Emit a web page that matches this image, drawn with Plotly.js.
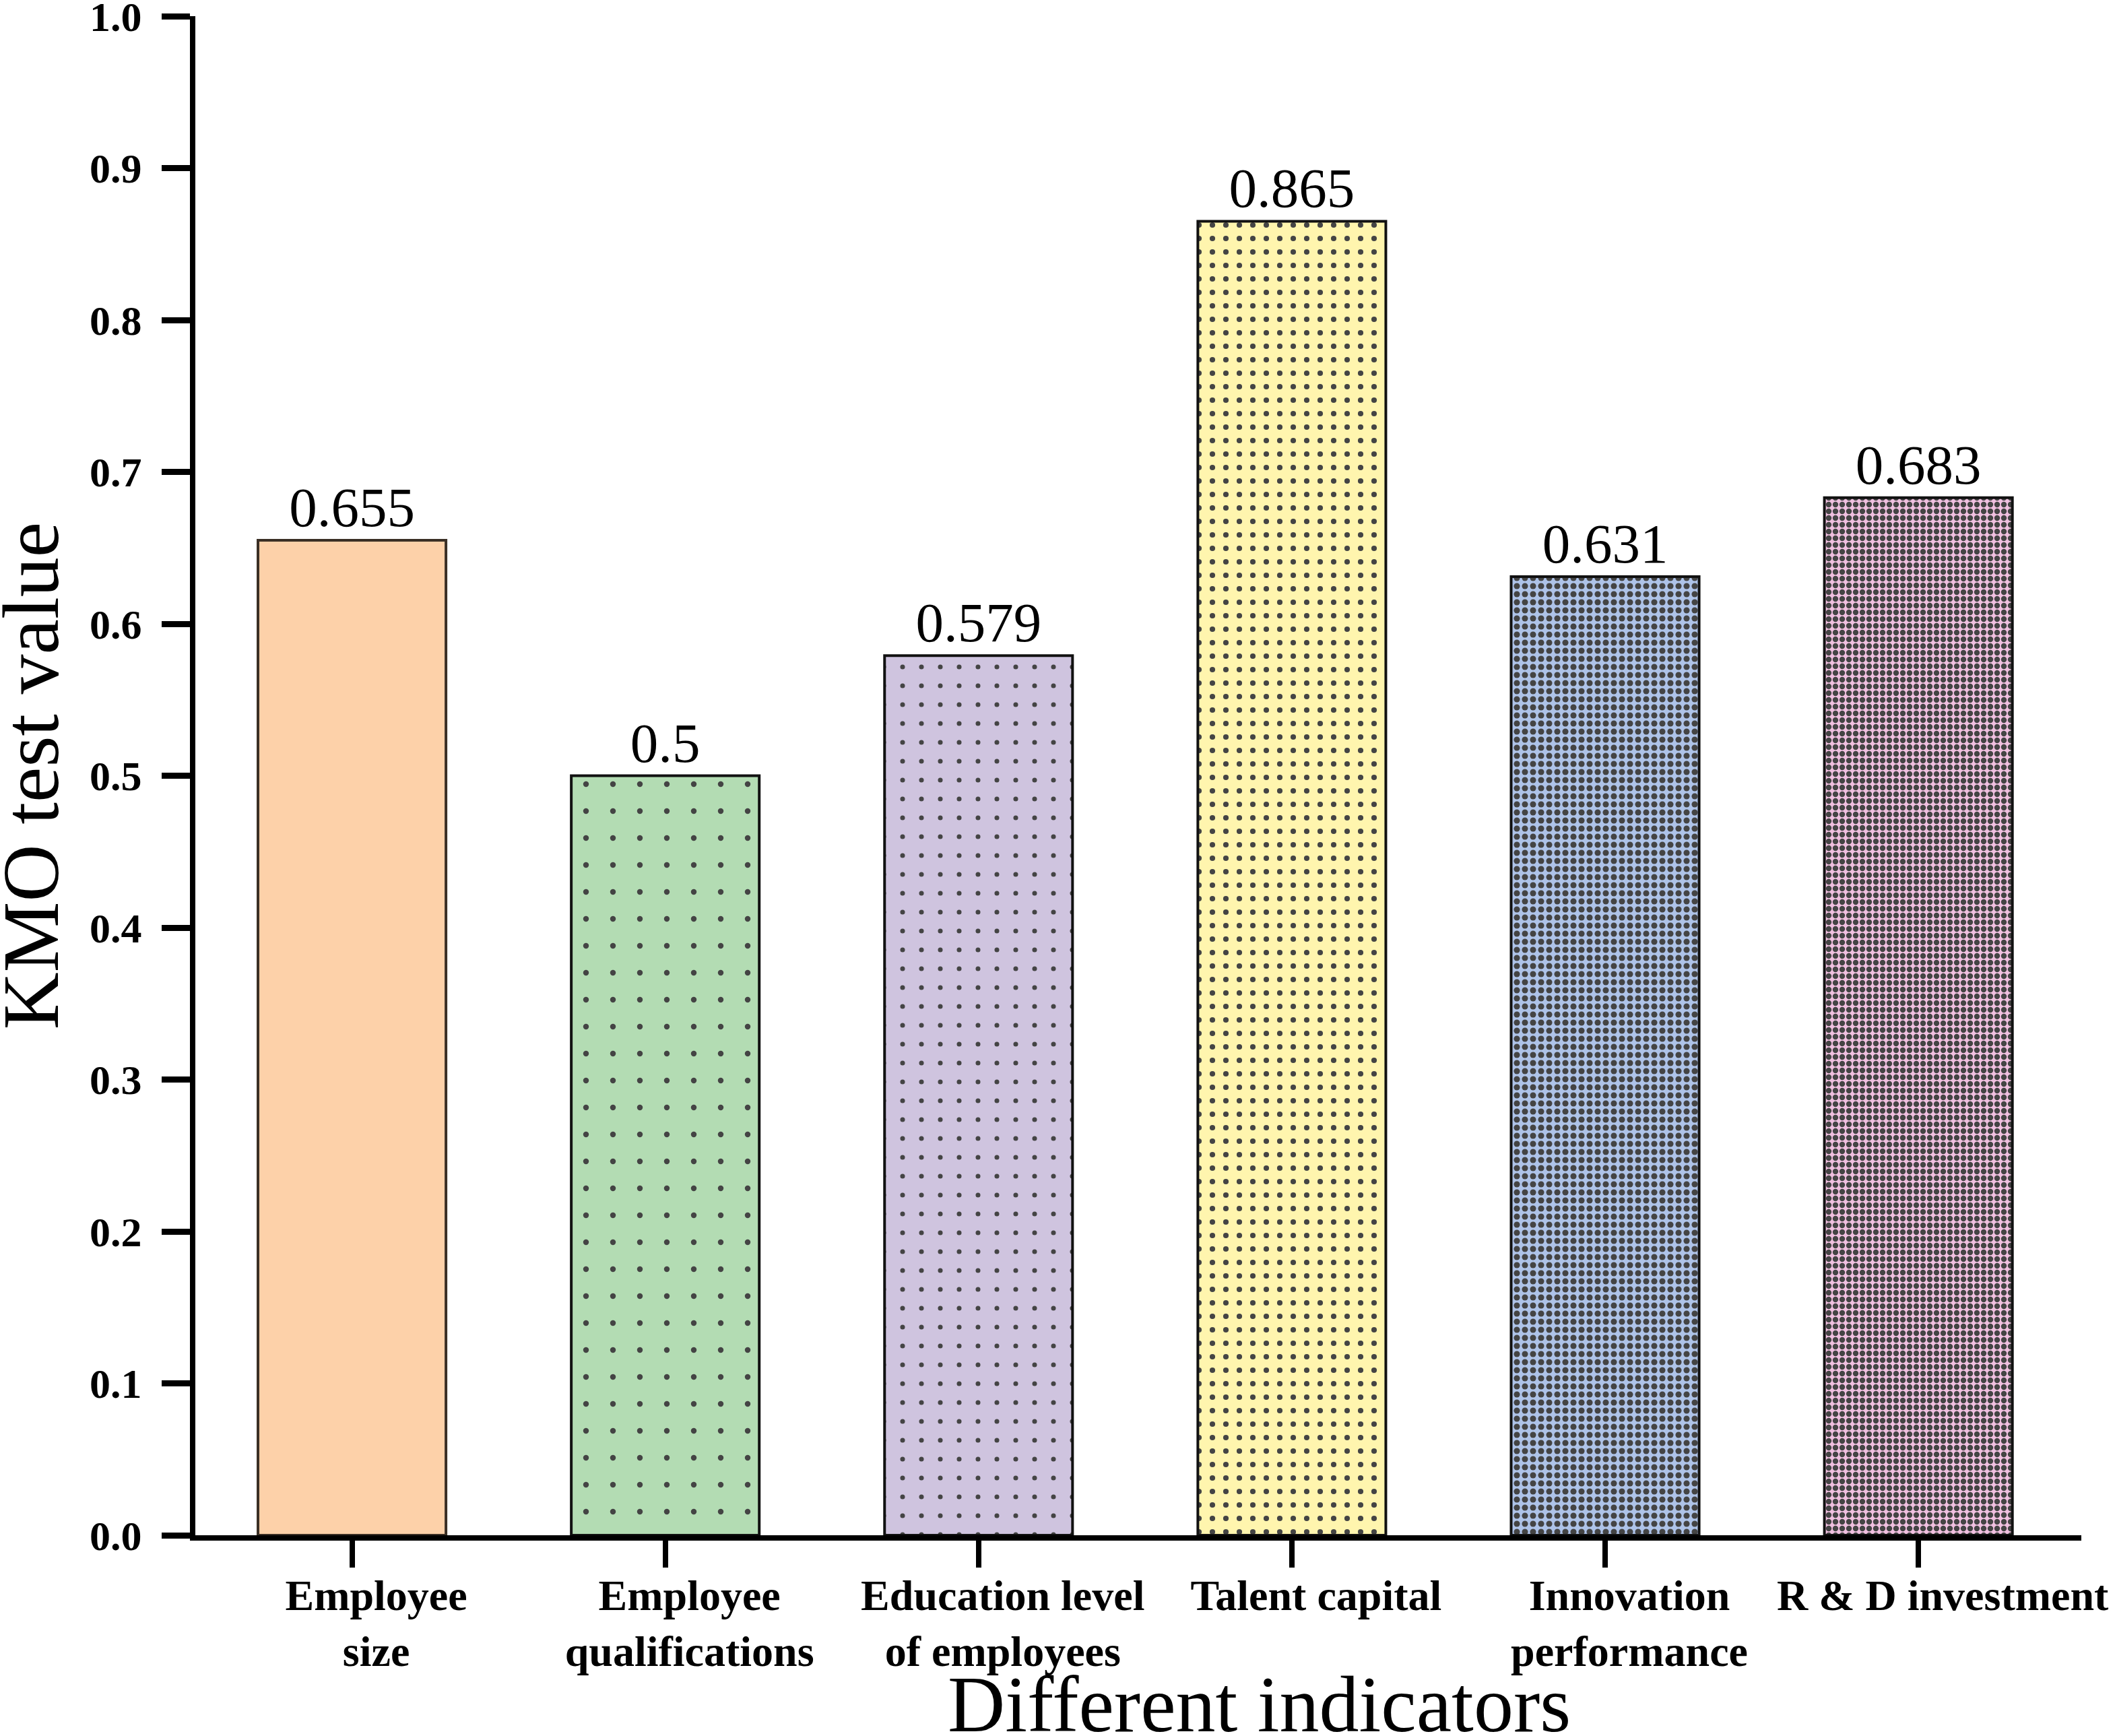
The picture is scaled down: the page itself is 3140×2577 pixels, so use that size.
<!DOCTYPE html>
<html>
<head>
<meta charset="utf-8">
<script src="https://cdn.plot.ly/plotly-3.0.1.min.js"></script>
<style>
  html, body { margin: 0; padding: 0; background: #ffffff; }
  #chart { width: 3140px; height: 2577px; }
</style>
</head>
<body>
<div id="chart"></div>
<script>
// ---- data ----
var categories = [
  "Employee<br>size",
  "Employee<br>qualifications",
  "Education level<br>of employees",
  "Talent capital",
  "Innovation<br>performance",
  "R & D investment"
];
var kmoValues = [0.655, 0.5, 0.579, 0.865, 0.631, 0.683];
var valueLabels = ["0.655", "0.5", "0.579", "0.865", "0.631", "0.683"];
var yTickVals = [0.0, 0.1, 0.2, 0.3, 0.4, 0.5, 0.6, 0.7, 0.8, 0.9, 1.0];
var yTickText = ["0.0", "0.1", "0.2", "0.3", "0.4", "0.5", "0.6", "0.7", "0.8", "0.9", "1.0"];
var xTitle = "Different indicators";
var yTitle = "KMO test value";

// ---- styles ----
var fillColors = ["#FDD1A9", "#B3DCB3", "#CFC4DF", "#FFF5AE", "#AEC3E8", "#F0C0E0"];
var dotColors  = ["#000000", "#142414", "#1e1828", "#2e2e1e", "#18212f", "#261624"];
var lineColors = ["#3a2f25", "#111111", "#111111", "#111111", "#111111", "#111111"];
var patShapes  = ["", ".", ".", ".", ".", "."];
var patSizes   = [10, 40, 28, 20, 12, 10];
var patSolid   = [0.3, 0.035, 0.05, 0.13, 0.45, 0.55];

var serif = "Liberation Serif, Times New Roman, serif";

var trace = {
  type: "bar",
  x: categories,
  y: kmoValues,
  text: valueLabels,
  texttemplate: "%{text}",
  textposition: "outside",
  constraintext: "none",
  cliponaxis: false,
  textfont: { family: serif, size: 83, color: "#000000" },
  marker: {
    color: fillColors,
    line: { color: lineColors, width: 4 },
    pattern: {
      shape: patShapes,
      size: patSizes,
      solidity: patSolid,
      fgcolor: dotColors,
      fgopacity: 1,
      fillmode: "overlay"
    }
  },
  hoverinfo: "none"
};

var layout = {
  width: 3140,
  height: 2577,
  margin: { l: 290, r: 50, t: 24, b: 298 },
  paper_bgcolor: "#ffffff",
  plot_bgcolor: "#ffffff",
  bargap: 0.4,
  showlegend: false,
  xaxis: {
    type: "category",
    range: [-0.5, 5.52],
    showline: true,
    linecolor: "#000000",
    linewidth: 8,
    ticks: "outside",
    ticklen: 40,
    tickwidth: 8,
    tickcolor: "#000000",
    showgrid: false,
    zeroline: false,
    ticklabelshift: 36,
    ticklabelstandoff: -14,
    ticklabeloverflow: "allow",
    tickfont: { family: serif, size: 64, color: "#000000", weight: "bold" },
    automargin: false
  },
  yaxis: {
    range: [0, 1],
    tickvals: yTickVals,
    ticktext: yTickText,
    showline: true,
    linecolor: "#000000",
    linewidth: 8,
    ticks: "outside",
    ticklen: 42,
    tickwidth: 9,
    tickcolor: "#000000",
    showgrid: false,
    zeroline: false,
    ticklabelstandoff: 17,
    ticklabeloverflow: "allow",
    tickfont: { family: serif, size: 62, color: "#000000", weight: "bold" },
    automargin: false
  },
  annotations: [
    {
      text: xTitle,
      xref: "paper", yref: "paper",
      x: 0.564, y: 0,
      xanchor: "center", yanchor: "top",
      yshift: -184,
      showarrow: false,
      font: { family: serif, size: 118, color: "#000000" }
    },
    {
      text: yTitle,
      xref: "paper", yref: "paper",
      x: -0.0871, y: 0.5,
      xanchor: "center", yanchor: "middle",
      textangle: -90,
      showarrow: false,
      font: { family: serif, size: 118, color: "#000000" }
    }
  ]
};

Plotly.newPlot("chart", [trace], layout, { staticPlot: true, displayModeBar: false });
</script>
</body>
</html>
